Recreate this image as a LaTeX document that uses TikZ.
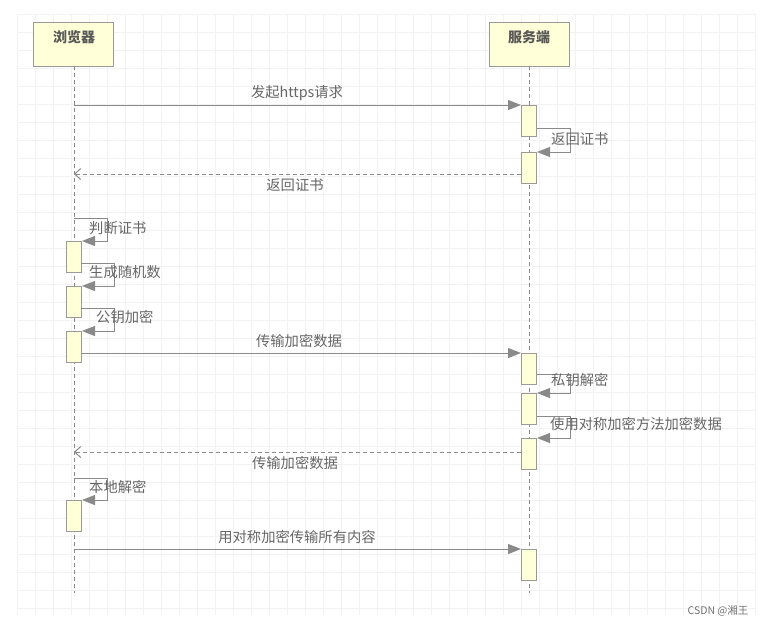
\documentclass[tikz,border=0pt]{standalone}
\usepackage{fontspec}
\setmainfont{Noto Sans CJK SC}
\usetikzlibrary{arrows.meta,calc}
\definecolor{actfill}{HTML}{FFFFD8}
\definecolor{actdraw}{HTML}{9A9A9A}
\definecolor{linec}{HTML}{8A8A8A}
\definecolor{txtc}{HTML}{666666}
\definecolor{gridc}{HTML}{F2F2F2}
\tikzset{
  head/.style={draw=actdraw,fill=actfill,line width=1pt,minimum width=80pt,minimum height=44pt,inner sep=0pt},
  act/.style={draw=actdraw,fill=actfill,line width=1pt,minimum width=15pt,minimum height=31pt,inner sep=0pt},
  life/.style={draw=linec,line width=0.8pt,dash pattern=on 4pt off 3pt},
  msg/.style={draw=linec,line width=1pt,-{Triangle[length=13pt,width=10pt]}},
  ret/.style={draw=linec,line width=1pt,dash pattern=on 4pt off 3pt,-{Straight Barb[length=6pt,width=11pt]}},
  lbl/.style={text=txtc,font=\fontsize{14.3}{15}\selectfont,inner sep=0pt}
}
\begin{document}
\begin{tikzpicture}[x=1pt,y=-1pt]
\useasboundingbox (0,0) rectangle (767,627);
\fill[white] (0,0) rectangle (767,627);
% grid
\foreach \i in {0,...,41} \draw[gridc,line width=0.6pt] (17+18*\i,14) -- (17+18*\i,615);
\foreach \j in {0,...,33} \draw[gridc,line width=0.6pt] (17,14+18*\j) -- (755,14+18*\j);
% heads
\node[head] (b) at (73,44) {};
\node[head] (s) at (529,44) {};
\node[text=black!65,font=\bfseries\fontsize{14}{15}\selectfont,inner sep=0pt] (bt) at (74,37) {浏览器};
\node[text=black!65,font=\bfseries\fontsize{14}{15}\selectfont,inner sep=0pt] (st) at (529,37) {服务端};
\coordinate (bend) at (74,593);
\coordinate (send) at (529,593);
\draw[life] (74,66) -- (bend);
\draw[life] (529,66) -- (send);
% server activations
\node[act,anchor=north] (sa1) at (529,105) {};
\node[act,anchor=north] (sa2) at (529,152) {};
\node[act,anchor=north] (sa3) at (529,353) {};
\node[act,anchor=north] (sa4) at (529,393) {};
\node[act,anchor=north] (sa5) at (529,438) {};
\node[act,anchor=north] (sa6) at (529,549) {};
% browser activations
\node[act,anchor=north] (ba1) at (74,241) {};
\node[act,anchor=north] (ba2) at (74,286) {};
\node[act,anchor=north] (ba3) at (74,331) {};
\node[act,anchor=north] (ba4) at (74,500) {};
% 1
\coordinate (m1) at (74,105);
\draw[msg] (m1) -- (sa1.north west);
\node[lbl] (l1) at (297,93) {发起https请求};
% 2 self
\coordinate (s2a) at (537,128);
\draw[msg] (s2a) -- ++(33,0) |- (sa2.north east);
\node[lbl,anchor=west] (l2) at (551,139) {返回证书};
% 3 return
\coordinate (r3) at (74,174);
\draw[ret] ($(sa2.west)+(0,6)$) -- (r3);
\node[lbl] (l3) at (295,185) {返回证书};
% 4
\coordinate (s4a) at (74,218);
\draw[msg] (s4a) -- ++(33,0) |- (ba1.north east);
\node[lbl,anchor=west] (l4) at (89,228) {判断证书};
% 5
\coordinate (s5a) at (81,263);
\draw[msg] (s5a) -- ++(33,0) |- (ba2.north east);
\node[lbl,anchor=west] (l5) at (89,272) {生成随机数};
% 6
\coordinate (s6a) at (81,308);
\draw[msg] (s6a) -- ++(33,0) |- (ba3.north east);
\node[lbl,anchor=west] (l6) at (96,317) {公钥加密};
% 7
\draw[msg] ($(ba3.north east)+(0,22)$) -- (sa3.north west);
\node[lbl] (l7) at (299,341) {传输加密数据};
% 8
\coordinate (s8a) at (537,374);
\draw[msg] (s8a) -- ++(33,0) |- (sa4.north east);
\node[lbl,anchor=west] (l8) at (551,380) {私钥解密};
% 9
\coordinate (s9a) at (537,416);
\draw[msg] (s9a) -- ++(33,0) |- (sa5.north east);
\node[lbl,anchor=west] (l9) at (550,424) {使用对称加密方法加密数据};
% 10 return
\coordinate (r10) at (74,452);
\draw[ret] ($(sa5.north west)+(0,14)$) -- (r10);
\node[lbl] (l10) at (295,463) {传输加密数据};
% 11
\coordinate (s11a) at (74,478);
\draw[msg] (s11a) -- ++(33,0) |- (ba4.north east);
\node[lbl,anchor=west] (l11) at (89,487) {本地解密};
% 12
\coordinate (m12) at (74,549);
\draw[msg] (m12) -- (sa6.north west);
\node[lbl] (l12) at (297,537) {用对称加密传输所有内容};
% watermark
\node[text=black!55,font=\fontsize{10.5}{11}\selectfont,inner sep=0pt] (wm) at (718,611) {CSDN @湘王};
\end{tikzpicture}
\end{document}
